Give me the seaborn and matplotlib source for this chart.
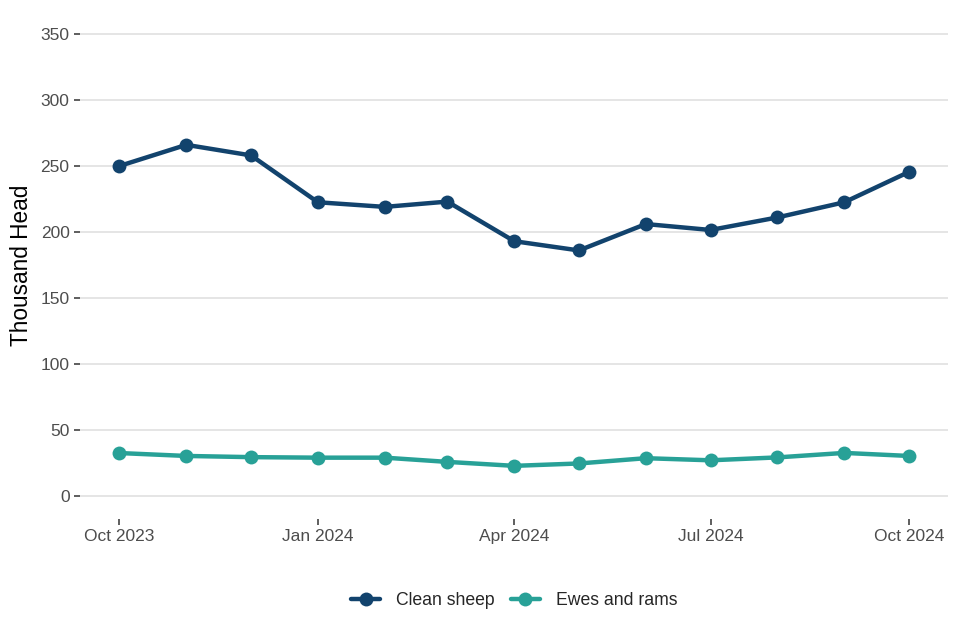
import matplotlib
matplotlib.use("Agg")
import matplotlib.pyplot as plt
import matplotlib.dates as mdates
import seaborn as sns
import pandas as pd
import numpy as np

months = ["2023-10-01", "2023-11-01", "2023-12-01", "2024-01-01", "2024-02-01",
          "2024-03-01", "2024-04-01", "2024-05-01", "2024-06-01", "2024-07-01",
          "2024-08-01", "2024-09-01", "2024-10-01"]
clean_sheep = [250, 266, 258, 222.5, 219, 223, 193, 186, 206, 201.5, 211, 222.5, 245.5]
ewes_rams = [32.5, 30.3, 29.4, 29, 29, 25.8, 22.8, 24.6, 28.6, 27, 29.2, 32.6, 30.3]
series_names = ["Clean sheep", "Ewes and rams"]
colors = ["#12436D", "#28A197"]
y_ticks = [0, 50, 100, 150, 200, 250, 300, 350]
x_tick_dates = ["2023-10-01", "2024-01-01", "2024-04-01", "2024-07-01", "2024-10-01"]
x_tick_labels = ["Oct 2023", "Jan 2024", "Apr 2024", "Jul 2024", "Oct 2024"]

dates = pd.to_datetime(months)
df = pd.concat([
    pd.DataFrame({"date": dates, "value": clean_sheep, "series": series_names[0]}),
    pd.DataFrame({"date": dates, "value": ewes_rams, "series": series_names[1]}),
])

sns.set_theme(style="white")
plt.rcParams["font.family"] = ["Liberation Sans", "DejaVu Sans"]

fig = plt.figure(figsize=(9.6, 6.4), dpi=100)
ax = fig.add_axes([0.0833, 0.189, 0.9047, 0.794])

sns.lineplot(data=df, x="date", y="value", hue="series", palette=colors,
             marker="o", markersize=10, markeredgewidth=0, linewidth=3.2,
             ax=ax, legend=True)

# axis limits with 5% expansion
d0, d1 = mdates.date2num(dates[0]), mdates.date2num(dates[-1])
span = d1 - d0
ax.set_xlim(d0 - 0.05 * span, d1 + 0.05 * span)
ax.set_ylim(-17.5, 367.5)

ax.set_yticks(y_ticks)
ax.set_yticklabels([str(v) for v in y_ticks])
ax.set_xticks(pd.to_datetime(x_tick_dates))
ax.set_xticklabels(x_tick_labels)

ax.grid(axis="y", color="#e3e3e3", linewidth=1.3)
ax.grid(axis="x", visible=False)
ax.set_axisbelow(True)
for s in ax.spines.values():
    s.set_visible(False)

ax.tick_params(axis="both", which="major", length=4, width=1.1, color="#333333",
               labelsize=12.5, labelcolor="#4d4d4d", pad=3.5, bottom=True, left=True)

ax.set_xlabel("")
ax.set_ylabel("Thousand Head", fontsize=16.3, color="black")
ax.yaxis.set_label_coords(-0.054, 0.5)

handles, labels = ax.get_legend_handles_labels()
ax.legend(handles, labels, loc="center", bbox_to_anchor=(0.5, -0.16),
          ncol=2, frameon=False, fontsize=12.7, handlelength=1.65,
          columnspacing=0.9, handletextpad=0.9)

fig.savefig("out.png", dpi=100)
